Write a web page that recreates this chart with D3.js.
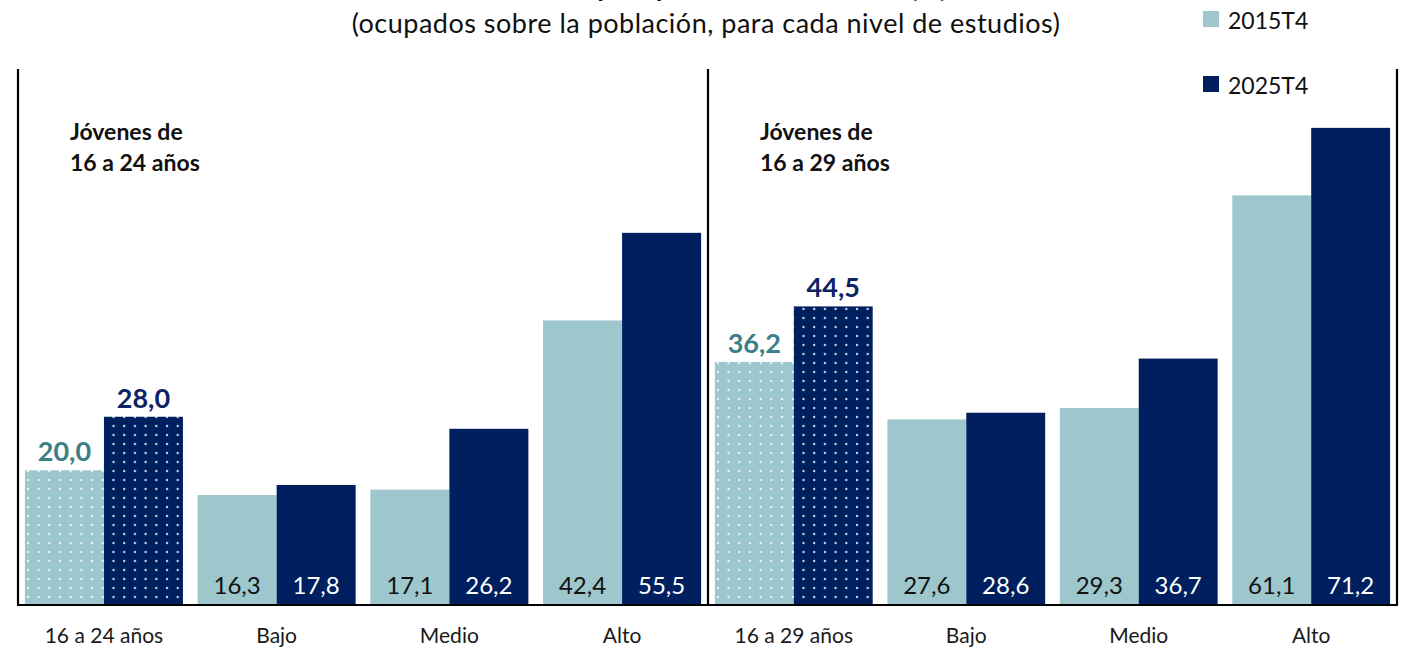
<!DOCTYPE html>
<html>
<head>
<meta charset="utf-8">
<script src="https://cdn.jsdelivr.net/npm/d3@7"></script>
<style>
  body { margin: 0; background: #fff; }
  svg { display: block; font-family: Lato, "Open Sans", sans-serif; }
</style>
</head>
<body>
<svg id="chart" width="1409" height="650"></svg>
<script>
// data
var panels = ["Jóvenes de|16 a 24 años", "Jóvenes de|16 a 29 años"];
var groupsA = ["16 a 24 años", "Bajo", "Medio", "Alto"];
var groupsB = ["16 a 29 años", "Bajo", "Medio", "Alto"];
var series = ["2015T4", "2025T4"];
var valsA2015 = [20.0, 16.3, 17.1, 42.4];
var valsA2025 = [28.0, 17.8, 26.2, 55.5];
var valsB2015 = [36.2, 27.6, 29.3, 61.1];
var valsB2025 = [44.5, 28.6, 36.7, 71.2];

var light = "#9ec6cd", dark = "#001f5f";
var fmt = function(v) { return v.toFixed(1).replace(".", ","); };

var svg = d3.select("#chart");

// dotted patterns for the highlighted (first) group
var defs = svg.append("defs");
[["dotLight", light], ["dotDark", dark]].forEach(function(p) {
    var pat = defs.append("pattern")
        .attr("id", p[0])
        .attr("patternUnits", "userSpaceOnUse")
        .attr("width", 10.7).attr("height", 9);
    pat.append("rect").attr("width", 10.7).attr("height", 9).attr("fill", p[1]);
    pat.append("circle").attr("cx", 3).attr("cy", 3).attr("r", 1.2)
        .attr("fill", "#fff").attr("opacity", 0.8);
});

var y = d3.scaleLinear().domain([0, 80]).range([604, 69]);

function drawPanel(x0, x1, groups, v15, v25, label) {
    var x = d3.scaleBand().domain(groups).range([x0, x1])
        .paddingInner(0.085).paddingOuter(0.04);
    var sub = d3.scaleBand().domain(series).range([0, x.bandwidth()]);

    var g = svg.append("g");
    var rows = groups.map(function(d, i) { return { cat: d, i: i, vals: [v15[i], v25[i]] }; });

    var grp = g.selectAll("g.grp")
        .data(rows)
      .enter().append("g")
        .attr("class", "grp")
        .attr("transform", function(d) { return "translate(" + x(d.cat) + ",0)"; });

    grp.selectAll("rect")
        .data(function(d) { return d.vals.map(function(v, k) { return { v: v, k: k, first: d.i == 0 }; }); })
      .enter().append("rect")
        .attr("x", function(d) { return sub(series[d.k]); })
        .attr("width", sub.bandwidth())
        .attr("y", function(d) { return y(d.v); })
        .attr("height", function(d) { return y(0) - y(d.v); })
        .attr("fill", function(d) {
            if (d.first) return d.k == 0 ? "url(#dotLight)" : "url(#dotDark)";
            return d.k == 0 ? light : dark;
        });

    // labels: above for first group, inside bottom for the rest
    grp.selectAll("text.val")
        .data(function(d) { return d.vals.map(function(v, k) { return { v: v, k: k, first: d.i == 0 }; }); })
      .enter().append("text")
        .attr("class", "val")
        .attr("text-anchor", "middle")
        .attr("x", function(d) { return sub(series[d.k]) + sub.bandwidth() / 2; })
        .attr("y", function(d) { return d.first ? y(d.v) - 9 : 594; })
        .attr("font-size", function(d) { return d.first ? 27 : 24; })
        .attr("font-weight", function(d) { return d.first ? "bold" : "normal"; })
        .attr("fill", function(d) {
            if (d.first) return d.k == 0 ? "#3b7f87" : "#0b2363";
            return d.k == 0 ? "#111" : "#fff";
        })
        .text(function(d) { return fmt(d.v); });

    // category axis labels
    g.selectAll("text.cat")
        .data(groups)
      .enter().append("text")
        .attr("class", "cat")
        .attr("text-anchor", "middle")
        .attr("x", function(d) { return x(d) + x.bandwidth() / 2; })
        .attr("y", 643)
        .attr("font-size", 21)
        .attr("fill", "#1a1a1a")
        .text(function(d) { return d; });

    // panel title
    var t = g.append("text")
        .attr("x", x0 + 52).attr("y", 140)
        .attr("font-size", 23).attr("font-weight", "bold").attr("fill", "#111");
    label.split("|").forEach(function(s, i) {
        t.append("tspan").attr("x", x0 + 52).attr("dy", i ? 31 : 0).text(s);
    });
}

drawPanel(18, 708, groupsA, valsA2015, valsA2025, panels[0]);
drawPanel(708, 1397, groupsB, valsB2015, valsB2025, panels[1]);

// frame lines
[18, 708, 1397].forEach(function(xv) {
    svg.append("line").attr("x1", xv).attr("x2", xv).attr("y1", y(80)).attr("y2", y(0) + 1)
        .attr("stroke", "#000").attr("stroke-width", 2.2);
});
svg.append("line").attr("x1", 17).attr("x2", 1398).attr("y1", y(0) + 1).attr("y2", y(0) + 1)
    .attr("stroke", "#000").attr("stroke-width", 2.2);

// titles (main title sits mostly above the visible area, as in the source)
svg.append("text").attr("x", 706).attr("y", -3).attr("text-anchor", "middle")
    .attr("font-size", 27).attr("font-weight", "bold").attr("fill", "#111")
    .text("Tasa de empleo por nivel de estudios (%)");
svg.append("text").attr("x", 706).attr("y", 33).attr("text-anchor", "middle")
    .attr("font-size", 27).attr("letter-spacing", 0.5).attr("fill", "#111")
    .text("(ocupados sobre la población, para cada nivel de estudios)");

// legend
var leg = svg.selectAll("g.leg")
    .data(series)
  .enter().append("g")
    .attr("class", "leg")
    .attr("transform", function(d, i) { return "translate(1203," + (11 + i * 65) + ")"; });
leg.append("rect").attr("width", 16).attr("height", 16)
    .attr("fill", function(d, i) { return i ? dark : light; });
leg.append("text").attr("x", 25).attr("y", 18).attr("font-size", 23).attr("fill", "#111")
    .text(function(d) { return d; });
</script>
</body>
</html>
